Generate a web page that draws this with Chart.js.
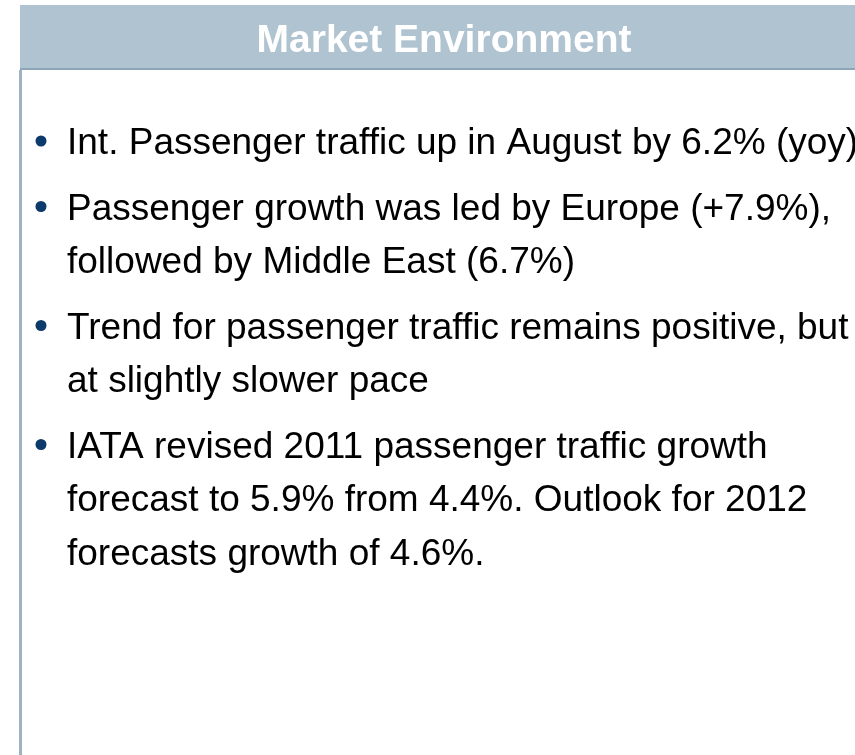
<!DOCTYPE html>
<html>
<head>
<meta charset="utf-8">
<script src="https://cdn.jsdelivr.net/npm/chart.js@4"></script>
<style>
  html, body { margin: 0; padding: 0; background: #fff; }
  #wrap { width: 855px; height: 755px; position: relative; }
</style>
</head>
<body>
<div id="wrap"><canvas id="slide"></canvas></div>
<script>
// slide content
const title = "Market Environment";
const bullets = [
  ["Int. Passenger traffic up in August by 6.2% (yoy)"],
  ["Passenger growth was led by Europe (+7.9%),", "followed by Middle East (6.7%)"],
  ["Trend for passenger traffic remains positive, but", "at slightly slower pace"],
  ["IATA revised 2011 passenger traffic growth", "forecast to 5.9% from 4.4%. Outlook for 2012", "forecasts growth of 4.6%."]
];

const ctxEl = document.getElementById("slide");

// draws header band, frame line and the bullet text
const slidePlugin = {
  id: "slide",
  beforeDraw(chart) {
    const c = chart.ctx;
    const w = chart.width, h = chart.height;
    c.save();
    c.fillStyle = "#ffffff";
    c.fillRect(0, 0, w, h);
    // header band
    c.fillStyle = "#b0c3d0";
    c.fillRect(20, 5, w - 20, 64);
    c.fillStyle = "#8ea6b7";
    c.fillRect(20, 68, w - 20, 2);
    // left frame line
    c.fillStyle = "#9db3c3";
    c.fillRect(19, 70, 3, h - 70);
    c.restore();
  },
  afterDraw(chart) {
    const c = chart.ctx;
    c.save();
    c.fillStyle = "#ffffff";
    c.font = "bold 39px 'Liberation Sans', Arial, sans-serif";
    c.textAlign = "center";
    c.textBaseline = "alphabetic";
    c.fillText(title, 444, 52);

    c.textAlign = "left";
    c.font = "37px 'Liberation Sans', Arial, sans-serif";
    let y = 154;
    const lineH = 53.5, gap = 12;
    bullets.forEach((lines, i) => {
      if (i > 0) y += gap;
      c.fillStyle = "#0b3a6b";
      c.beginPath();
      c.arc(41, y - 13, 5.5, 0, Math.PI * 2);
      c.fill();
      c.fillStyle = "#000000";
      lines.forEach((t, j) => {
        c.fillText(t, 67, y);
        if (j < lines.length - 1) y += lineH;
      });
      y += lineH;
    });
    c.restore();
  }
};

new Chart(ctxEl, {
  type: "scatter",
  data: { datasets: [{ data: [] }] },
  options: {
    responsive: true,
    maintainAspectRatio: false,
    animation: false,
    events: [],
    layout: { padding: 0 },
    scales: {
      x: { display: false },
      y: { display: false }
    },
    plugins: {
      legend: { display: false },
      tooltip: { enabled: false },
      title: { display: false }
    }
  },
  plugins: [slidePlugin]
});
</script>
</body>
</html>
